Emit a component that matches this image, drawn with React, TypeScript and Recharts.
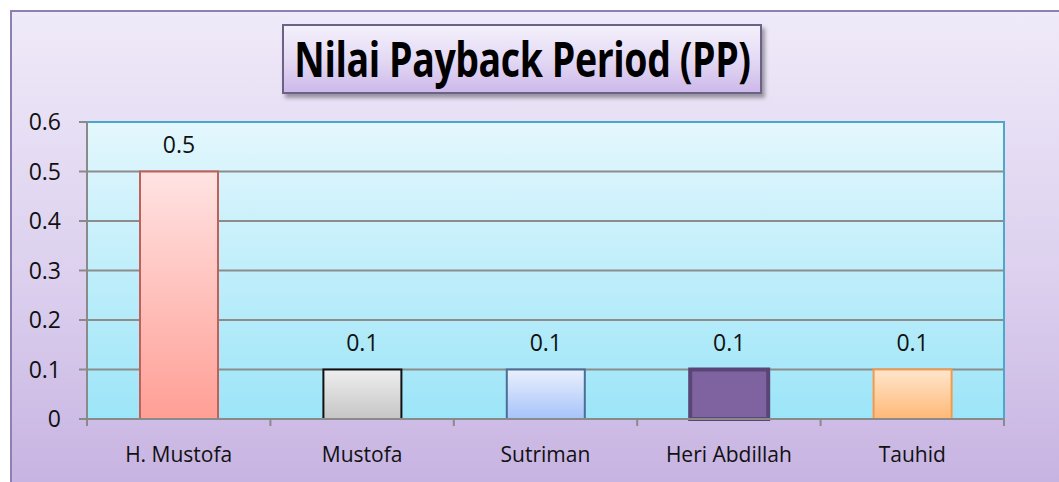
import { BarChart, Bar, XAxis, YAxis, CartesianGrid, Cell, LabelList, ReferenceArea } from 'recharts';

const names = ['H. Mustofa', 'Mustofa', 'Sutriman', 'Heri Abdillah', 'Tauhid'];
const paybackValues = [0.5, 0.1, 0.1, 0.1, 0.1];
const yTicks = [0, 0.1, 0.2, 0.3, 0.4, 0.5, 0.6];

const chartData = names.map((name, i) => ({ name, pp: paybackValues[i] }));

// bar looks, one per category
const barStyles = [
  { fill: 'url(#barPink)', stroke: '#C0605A', strokeWidth: 2 },
  { fill: 'url(#barGray)', stroke: '#111111', strokeWidth: 2 },
  { fill: 'url(#barBlue)', stroke: '#4A6E96', strokeWidth: 2 },
  { fill: '#7F62A0', stroke: '#5A4577', strokeWidth: 4 },
  { fill: 'url(#barPeach)', stroke: '#F59A4A', strokeWidth: 2 },
];

const CHART_W = 1059;
const CHART_H = 482;
const BAND = (1004 - 87) / names.length;
const font = "'Open Sans', 'Noto Sans', sans-serif";

function CategoryTick(props: any) {
  const { x, y, payload, index } = props;
  const left = x - BAND / 2;
  return (
    <g>
      <line x1={left} y1={y - 8} x2={left} y2={y - 1} stroke="#8A8A8A" strokeWidth={2} />
      {index === names.length - 1 && (
        <line x1={x + BAND / 2} y1={y - 8} x2={x + BAND / 2} y2={y - 1} stroke="#8A8A8A" strokeWidth={2} />
      )}
      <text x={x} y={y + 35} textAnchor="middle" fontSize={21} fontFamily={font} fill="#111">
        {payload.value}
      </text>
    </g>
  );
}

export default function App() {
  return (
    <div
      style={{
        position: 'absolute',
        left: 0,
        top: 0,
        width: CHART_W,
        height: CHART_H,
        background: '#ffffff',
        overflow: 'hidden',
      }}
    >
      <div
        style={{
          position: 'absolute',
          left: 10,
          top: 10,
          width: CHART_W,
          height: CHART_H,
          borderLeft: '2px solid #8E80B2',
          borderTop: '2px solid #8E80B2',
          background: 'linear-gradient(to bottom, #EFEAF9 0%, #DCD0EE 55%, #C6B2E1 100%)',
        }}
      />
      <div style={{ position: 'absolute', left: 0, top: 0 }}>
        <BarChart
          width={CHART_W}
          height={CHART_H}
          data={chartData}
          margin={{ top: 122, right: 55, left: 27, bottom: 33 }}
        >
          <defs>
            <linearGradient id="plotBg" x1="0" y1="0" x2="0" y2="1">
              <stop offset="0%" stopColor="#E4F7FD" />
              <stop offset="100%" stopColor="#9CE5F8" />
            </linearGradient>
            <linearGradient id="barPink" x1="0" y1="0" x2="0" y2="1">
              <stop offset="0%" stopColor="#FFE3E3" />
              <stop offset="100%" stopColor="#FF9F95" />
            </linearGradient>
            <linearGradient id="barGray" x1="0" y1="0" x2="0" y2="1">
              <stop offset="0%" stopColor="#EEEEEE" />
              <stop offset="100%" stopColor="#C6C6C6" />
            </linearGradient>
            <linearGradient id="barBlue" x1="0" y1="0" x2="0" y2="1">
              <stop offset="0%" stopColor="#EAF0FC" />
              <stop offset="100%" stopColor="#A6C3FA" />
            </linearGradient>
            <linearGradient id="barPeach" x1="0" y1="0" x2="0" y2="1">
              <stop offset="0%" stopColor="#FFE6CC" />
              <stop offset="100%" stopColor="#FFB877" />
            </linearGradient>
          </defs>
          <CartesianGrid vertical={false} stroke="#8C8C8C" strokeWidth={2} fill="url(#plotBg)" fillOpacity={1} />
          <ReferenceArea y1={0} y2={0.6} fill="none" stroke="#4BA8C8" strokeWidth={2} ifOverflow="visible" />
          <XAxis
            dataKey="name"
            height={30}
            axisLine={{ stroke: '#8A8A8A', strokeWidth: 2 }}
            tickLine={false}
            tick={<CategoryTick />}
            interval={0}
          />
          <YAxis
            width={60}
            domain={[0, 0.6]}
            ticks={yTicks}
            axisLine={{ stroke: '#8A8A8A', strokeWidth: 2 }}
            tickLine={{ stroke: '#8A8A8A', strokeWidth: 2 }}
            tickSize={8}
            tickMargin={18}
            tick={{ fontSize: 23, fontFamily: font, fill: '#111' }}
            tickFormatter={(v: number) => String(v)}
          />
          <Bar dataKey="pp" barSize={78} isAnimationActive={false}>
            {chartData.map((d, i) => (
              <Cell key={d.name} {...barStyles[i]} />
            ))}
            <LabelList
              dataKey="pp"
              position="top"
              offset={19}
              style={{ fontSize: 23, fontFamily: font, fill: '#111' }}
            />
          </Bar>
        </BarChart>
      </div>
      <div
        style={{
          position: 'absolute',
          left: 282,
          top: 24,
          width: 476,
          height: 66,
          border: '2px solid #6C6288',
          background: 'linear-gradient(to bottom, #F4F0FB 0%, #E4DAF4 50%, #CDB9EA 100%)',
          boxShadow: '3px 4px 4px rgba(0,0,0,0.35)',
          display: 'flex',
          alignItems: 'center',
          justifyContent: 'center',
          overflow: 'visible',
        }}
      >
        <span
          style={{
            display: 'inline-block',
            whiteSpace: 'nowrap',
            fontFamily: font,
            fontWeight: 'bold',
            fontSize: 48,
            lineHeight: '66px',
            color: '#000',
            transform: 'scaleX(0.78)',
            letterSpacing: '-0.5px',
          }}
        >
          Nilai Payback Period (PP)
        </span>
      </div>
    </div>
  );
}
